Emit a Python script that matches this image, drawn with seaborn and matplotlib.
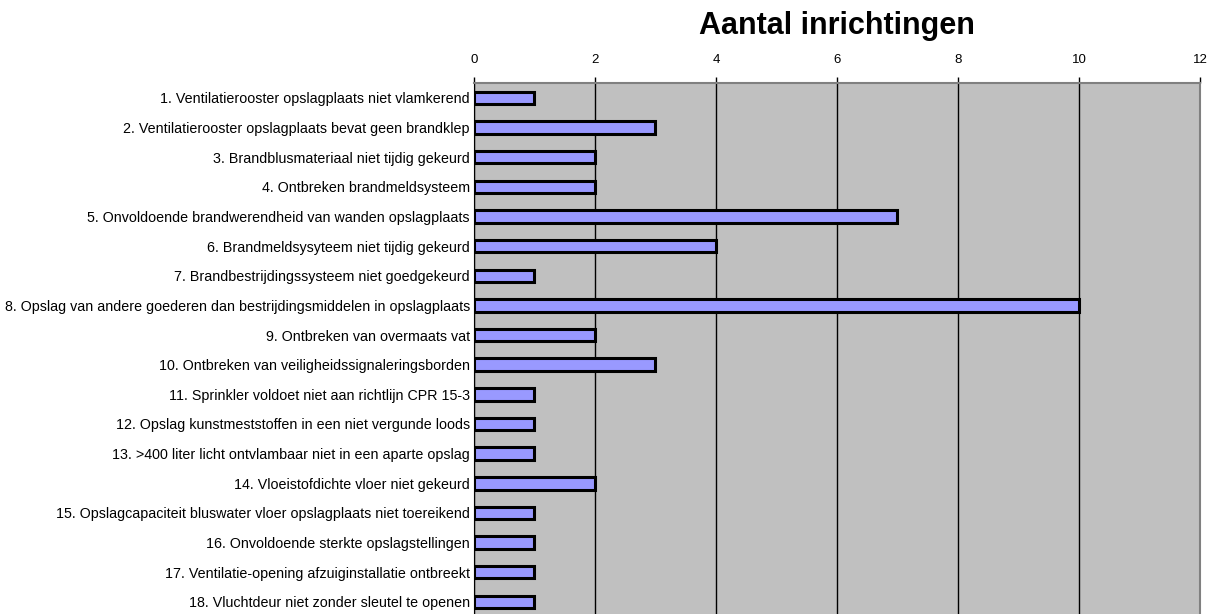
import numpy as np
import pandas as pd
import matplotlib
matplotlib.use("Agg")
import matplotlib.pyplot as plt
import seaborn as sns
from matplotlib.ticker import FixedLocator

categories = [
    "1. Ventilatierooster opslagplaats niet vlamkerend",
    "2. Ventilatierooster opslagplaats bevat geen brandklep",
    "3. Brandblusmateriaal niet tijdig gekeurd",
    "4. Ontbreken brandmeldsysteem",
    "5. Onvoldoende brandwerendheid van wanden opslagplaats",
    "6. Brandmeldsysyteem niet tijdig gekeurd",
    "7. Brandbestrijdingssysteem niet goedgekeurd",
    "8. Opslag van andere goederen dan bestrijdingsmiddelen in opslagplaats",
    "9. Ontbreken van overmaats vat",
    "10. Ontbreken van veiligheidssignaleringsborden",
    "11. Sprinkler voldoet niet aan richtlijn CPR 15-3",
    "12. Opslag kunstmeststoffen in een niet vergunde loods",
    "13. >400 liter licht ontvlambaar niet in een aparte opslag",
    "14. Vloeistofdichte vloer niet gekeurd",
    "15. Opslagcapaciteit bluswater vloer opslagplaats niet toereikend",
    "16. Onvoldoende sterkte opslagstellingen",
    "17. Ventilatie-opening afzuiginstallatie ontbreekt",
    "18. Vluchtdeur niet zonder sleutel te openen",
]
counts = [1, 3, 2, 2, 7, 4, 1, 10, 2, 3, 1, 1, 1, 2, 1, 1, 1, 1]
x_ticks = [0, 2, 4, 6, 8, 10, 12]

df = pd.DataFrame({"categorie": categories, "aantal": counts})

sns.set_style("white")
plt.rcParams["font.family"] = ["Liberation Sans", "DejaVu Sans"]
plt.rcParams["text.color"] = "black"

fig = plt.figure(figsize=(12.21, 6.14), dpi=100)
ax = fig.add_axes([0.3882, -0.0044, 0.5946, 0.8692])
ax.set_facecolor("#C0C0C0")

sns.barplot(data=df, x="aantal", y="categorie", orient="h", color="#9999FF",
            saturation=1, edgecolor="black", linewidth=2.2, width=0.42, ax=ax)

ax.set_xlim(0, 12)
ax.set_ylim(len(categories) - 0.5, -0.5)
ax.set_xticks(x_ticks)
ax.xaxis.tick_top()
ax.tick_params(axis="x", direction="out", length=4, width=1, labelsize=9.5,
               pad=8, colors="black", labelcolor="black")
ax.grid(axis="x", color="black", linewidth=1)
ax.set_axisbelow(True)

# category separators as ticks on the y axis
ax.yaxis.set_major_locator(FixedLocator(np.arange(len(categories))))
ax.tick_params(axis="y", which="major", length=0, labelsize=10.3, pad=3,
               labelcolor="black")
ax.yaxis.set_minor_locator(FixedLocator(np.arange(len(categories)) + 0.5))
ax.tick_params(axis="y", which="minor", length=4, width=1, direction="out",
               color="black")

ax.set_xlabel("")
ax.set_ylabel("")

for side in ["top", "right"]:
    ax.spines[side].set_color("#808080")
    ax.spines[side].set_linewidth(1.5)
ax.spines["left"].set_color("black")
ax.spines["bottom"].set_visible(False)

fig.text(0.6855, 0.958, "Aantal inrichtingen", ha="center", va="center",
         fontsize=22, fontweight="bold", color="black")

fig.savefig("out.png", dpi=100)
